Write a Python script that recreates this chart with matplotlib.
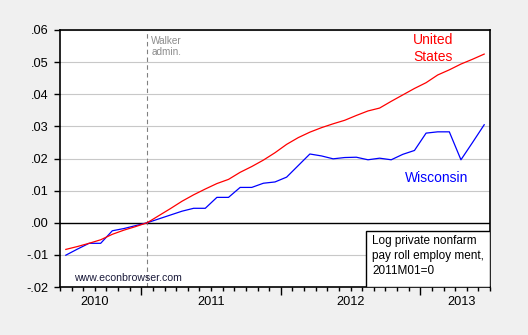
import matplotlib.pyplot as plt
from matplotlib.patches import Rectangle

plt.rcParams['font.family'] = ['Liberation Sans', 'DejaVu Sans']

# monthly observations 2010M06 .. 2013M06, index 0 = 2010M06
months = list(range(37))

us = [-0.0083, -0.0074, -0.0064, -0.0053, -0.0036, -0.0023, -0.0012, 0.0,
      0.0022, 0.0044, 0.0067, 0.0087, 0.0105, 0.0122, 0.0135, 0.0157,
      0.0175, 0.0195, 0.0218, 0.0244, 0.0265, 0.0282, 0.0296, 0.0308,
      0.0319, 0.0334, 0.0348, 0.0357, 0.0378, 0.0398, 0.0418, 0.0436,
      0.0460, 0.0476, 0.0494, 0.0509, 0.0525]

wisconsin = [-0.0101, -0.0082, -0.0064, -0.0064, -0.0025, -0.0018, -0.0009, 0.0,
             0.0012, 0.0024, 0.0036, 0.0045, 0.0045, 0.0079, 0.0079, 0.0110,
             0.0110, 0.0123, 0.0127, 0.0142, 0.0178, 0.0214, 0.0208, 0.0199,
             0.0203, 0.0204, 0.0196, 0.0201, 0.0196, 0.0213, 0.0225, 0.0279,
             0.0283, 0.0283, 0.0196, 0.0250, 0.0305]

walker_start = 7  # 2011M01
years = ['2010', '2011', '2012', '2013']
year_label_pos = [2.45, 12.5, 24.5, 34.05]
year_bounds = [6.5, 18.5, 30.5]
yticks = [-0.02, -0.01, 0.0, 0.01, 0.02, 0.03, 0.04, 0.05, 0.06]


def fmt(v):
    s = f"{v:.2f}"
    return s.replace("0.", ".", 1)


fig = plt.figure(figsize=(5.28, 3.35), dpi=100, facecolor='#f0f0f0')
ax = fig.add_axes([60 / 528, 1 - 287 / 335, 430 / 528, 257 / 335])
ax.set_facecolor('white')

for v in yticks:
    if v != 0:
        ax.axhline(v, color='#c8c8c8', lw=0.8, zorder=1)
ax.axhline(0, color='black', lw=1.0, zorder=2)
ax.axvline(walker_start, color='#808080', lw=0.8, ls=(0, (4, 3)), zorder=2)

ax.plot(months, wisconsin, color='#0000ff', lw=0.9, zorder=3)
ax.plot(months, us, color='#ff0000', lw=0.9, zorder=4)

ax.set_xlim(-0.5, 36.5)
ax.set_ylim(-0.02, 0.06)

ax.set_yticks(yticks)
ax.set_yticklabels([fmt(v) for v in yticks])
ax.tick_params(axis='y', direction='out', length=4, width=1, pad=4,
               labelsize=9.2, colors='black')

ax.set_xticks(year_bounds)
ax.set_xticklabels([])
ax.set_xticks([m - 0.5 for m in range(38)], minor=True)
ax.tick_params(axis='x', which='major', direction='out', length=6, width=1)
ax.tick_params(axis='x', which='minor', direction='out', length=3, width=1)
for lab, xp in zip(years, year_label_pos):
    ax.text(xp, -0.036, lab, transform=ax.get_xaxis_transform(),
            ha='center', va='top', fontsize=9.2)

for s in ax.spines.values():
    s.set_color('black')
    s.set_linewidth(1.2)

ax.text(0.212, 0.975, 'Walker\nadmin.', transform=ax.transAxes, ha='left',
        va='top', fontsize=7.2, color='#8c8c8c', linespacing=1.1)
ax.text(0.867, 0.928, 'United\nStates', transform=ax.transAxes, ha='center',
        va='center', fontsize=10, color='#ff0000', linespacing=1.2)
ax.text(0.876, 0.423, 'Wisconsin', transform=ax.transAxes, ha='center',
        va='center', fontsize=10, color='#0000ff')
ax.text(0.033, 0.035, 'www.econbrowser.com', transform=ax.transAxes,
        ha='left', va='center', fontsize=7.6, color='#1a1a3a')

ax.add_patch(Rectangle((0.711, 0), 0.289, 0.219, transform=ax.transAxes,
                       facecolor='white', edgecolor='black', lw=1.0, zorder=5))
ax.text(0.726, 0.202, 'Log private nonfarm\npay roll employ ment,\n2011M01=0',
        transform=ax.transAxes, ha='left', va='top', fontsize=8.5,
        linespacing=1.35, zorder=6)

fig.savefig('out.png', dpi=100, facecolor=fig.get_facecolor())
